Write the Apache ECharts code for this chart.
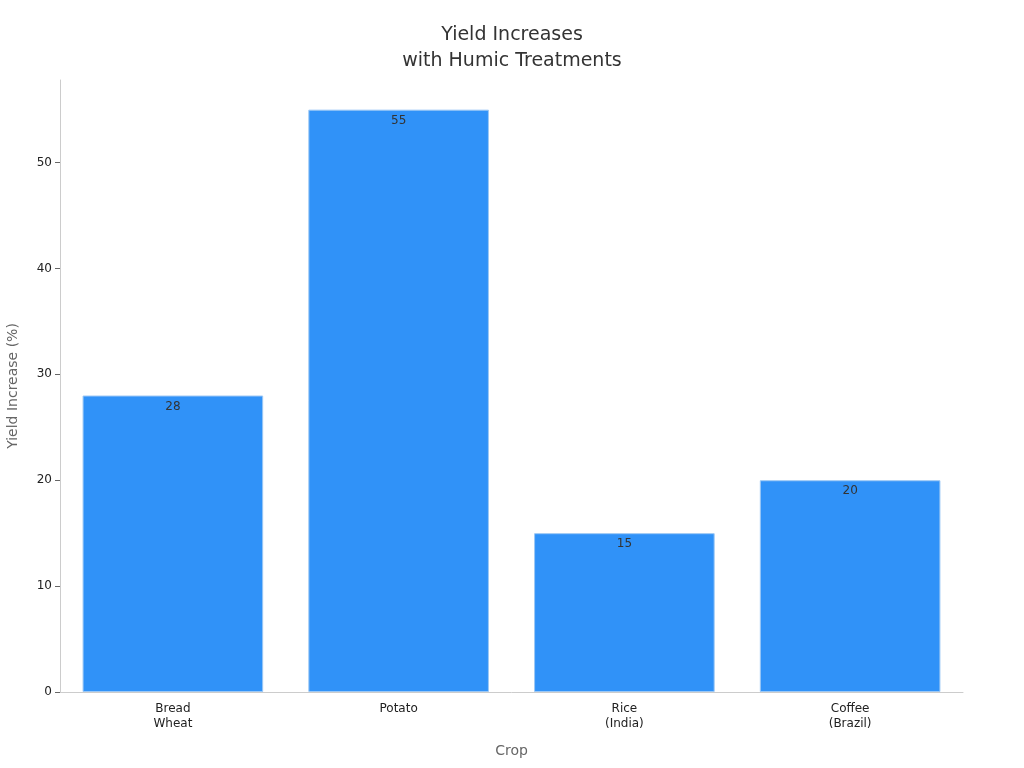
<!DOCTYPE html>
<html><head><meta charset="utf-8">
<script src="https://cdn.jsdelivr.net/npm/echarts@6/dist/echarts.min.js"></script>
<style>html,body{margin:0;padding:0;background:#fff}#c{width:1024px;height:768px}</style>
</head><body><div id="c"></div>
<script>
const categories = ['Bread\nWheat', 'Potato', 'Rice\n(India)', 'Coffee\n(Brazil)'];
const values = [28, 55, 15, 20];
const yTicks = [0, 10, 20, 30, 40, 50];
const chart = echarts.init(document.getElementById('c'));
chart.setOption({
  animation: false,
  textStyle: { fontFamily: 'DejaVu Sans' },
  title: {
    text: 'Yield Increases\nwith Humic Treatments',
    left: 'center', top: 17,
    textStyle: { fontSize: 19, fontWeight: 'normal', color: '#333', lineHeight: 26, fontFamily: 'DejaVu Sans' }
  },
  grid: { left: 60, right: 61, top: 80, bottom: 76, outerBoundsMode: 'none' },
  xAxis: {
    type: 'category', data: categories,
    name: 'Crop', nameLocation: 'middle', nameGap: 52,
    nameTextStyle: { fontSize: 14, color: '#666' },
    axisLine: { lineStyle: { color: '#ccc' } },
    axisTick: { alignWithLabel: true, length: 4, lineStyle: { color: '#666' } },
    axisLabel: { color: '#222', fontSize: 12, lineHeight: 15, margin: 9 }
  },
  yAxis: {
    type: 'value', min: 0, max: 57.8, interval: 10,
    name: 'Yield Increase (%)', nameLocation: 'middle', nameGap: 40,
    nameTextStyle: { fontSize: 14, color: '#666' },
    splitLine: { show: false },
    axisLine: { show: true, lineStyle: { color: '#ccc' } },
    axisTick: { show: true, length: 5, lineStyle: { color: '#666' }, customValues: yTicks },
    axisLabel: { color: '#222', fontSize: 12, margin: 8, customValues: yTicks }
  },
  series: [{
    type: 'bar', data: values, barWidth: '80%',
    itemStyle: { color: '#3092f8', borderColor: '#9cc8f5', borderWidth: 1 },
    label: { show: true, position: 'insideTop', distance: 5, color: '#333', fontSize: 12 }
  }]
});
</script></body></html>
